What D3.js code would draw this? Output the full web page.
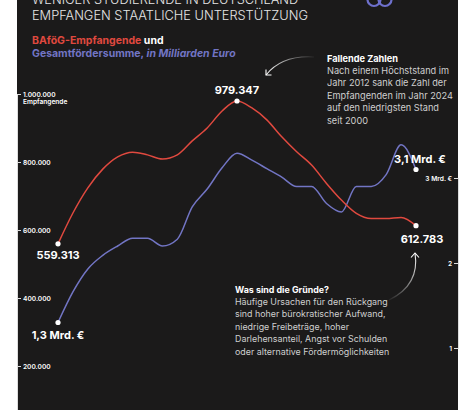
<!DOCTYPE html>
<html>
<head>
<meta charset="utf-8">
<script src="https://cdn.jsdelivr.net/npm/d3@7"></script>
<style>
  html, body { margin: 0; padding: 0; background: #fff; }
  svg { display: block; font-family: Inter, "Noto Sans", sans-serif; }
</style>
</head>
<body>
<svg width="474" height="410"></svg>
<script>
const years = [2000, 2001, 2002, 2003, 2004, 2005, 2006, 2007, 2008, 2009, 2010, 2011,
  2012, 2013, 2014, 2015, 2016, 2017, 2018, 2019, 2020, 2021, 2022, 2023, 2024];

// BAföG-Empfangende (Personen)
const recipients = [559313, 650000, 724000, 779000, 815000, 829000, 821000, 809000,
  821000, 862000, 900000, 950000, 979347, 959000, 924000, 874000, 830000, 791000,
  737000, 688000, 649000, 634000, 634000, 637000, 612783];

// Gesamtfördersumme in Mrd. Euro
const funding = [1.30, 1.66, 1.93, 2.09, 2.20, 2.29, 2.29, 2.20, 2.28, 2.66, 2.87, 3.12,
  3.29, 3.21, 3.11, 3.01, 2.90, 2.90, 2.70, 2.60, 2.90, 2.90, 3.04, 3.39, 3.10];

const leftTicks = [200000, 400000, 600000, 800000, 1000000];
const rightTicks = [1, 2, 3];

const RED = "#e0493f";
const BLUE = "#7275c4";
const BG = "#1b1a1a";

const de = d3.formatLocale({ decimal: ",", thousands: ".", grouping: [3], currency: ["", " €"] });
const fmtInt = de.format(",d");
const fmtMrd = (v) => de.format(".1f")(v) + " Mrd. €";

const svg = d3.select("svg");
const W = 474, H = 410;
const panelL = 17, panelR = 458;

svg.append("rect").attr("x", panelL).attr("y", 0)
  .attr("width", panelR - panelL).attr("height", H).attr("fill", BG);

const x = d3.scaleLinear().domain([2000, 2024]).range([58, 416]);
const yL = d3.scaleLinear().domain([0, 1000000]).range([434, 94]);
const yR = d3.scaleLinear().domain([1, 3]).range([348, 178]);

// header
const title = svg.append("text").attr("fill", "#e6e6e6")
  .attr("font-size", 12.8).attr("font-weight", 300);
title.append("tspan").attr("x", 32).attr("y", 3.5).text("WENIGER STUDIERENDE IN DEUTSCHLAND");
title.append("tspan").attr("x", 32).attr("y", 20).text("EMPFANGEN STAATLICHE UNTERSTÜTZUNG");

const sub1 = svg.append("text").attr("x", 32).attr("y", 44)
  .attr("font-size", 10.5).attr("font-weight", 700);
sub1.append("tspan").attr("fill", RED).text("BAföG-Empfangende");
sub1.append("tspan").attr("fill", "#fff").text(" und");

const sub2 = svg.append("text").attr("x", 32).attr("y", 56.5)
  .attr("font-size", 10.5).attr("font-weight", 700).attr("fill", BLUE);
sub2.append("tspan").text("Gesamtfördersumme,");
sub2.append("tspan").attr("font-style", "italic").text(" in Milliarden Euro");

// logo rings
const logo = svg.append("g").attr("fill", "none").attr("stroke", "#6e70cc").attr("stroke-width", 2.2);
logo.append("circle").attr("cx", 374).attr("cy", -0.5).attr("r", 6.5);
logo.append("circle").attr("cx", 385).attr("cy", -0.5).attr("r", 6.5);

// axes
const axisL = svg.append("g").attr("transform", `translate(${panelL},0)`)
  .call(d3.axisRight(yL).tickValues(leftTicks).tickSize(4).tickPadding(2).tickFormat(fmtInt));
axisL.select(".domain").attr("stroke", "#ddd");
axisL.selectAll(".tick line").attr("stroke", "#ddd");
axisL.selectAll(".tick text").attr("fill", "#fff").attr("font-size", 6.6)
  .attr("font-weight", 600).attr("font-family", "Inter, sans-serif");
svg.append("text").attr("x", 23).attr("y", yL(1000000) + 9.5)
  .attr("fill", "#fff").attr("font-size", 6.6).attr("font-weight", 600).text("Empfangende");

const axisR = svg.append("g").attr("transform", `translate(${panelR},0)`)
  .call(d3.axisLeft(yR).tickValues(rightTicks).tickSize(4).tickPadding(2)
    .tickFormat((d) => (d === 3 ? "3 Mrd. €" : d)));
axisR.select(".domain").attr("stroke", "#ddd");
axisR.selectAll(".tick line").attr("stroke", "#ddd");
axisR.selectAll(".tick text").attr("fill", "#fff").attr("font-size", 6.6)
  .attr("font-weight", 600).attr("font-family", "Inter, sans-serif");

// lines
const redLine = d3.line().curve(d3.curveMonotoneX)
  .x((d, i) => x(years[i])).y((d) => yL(d));
const blueLine = d3.line().curve(d3.curveMonotoneX)
  .x((d, i) => x(years[i])).y((d) => yR(d));

svg.append("path").datum(funding).attr("d", blueLine)
  .attr("fill", "none").attr("stroke", BLUE).attr("stroke-width", 1.5);
svg.append("path").datum(recipients).attr("d", redLine)
  .attr("fill", "none").attr("stroke", RED).attr("stroke-width", 1.5);

// highlighted points
const last = years.length - 1;
const peak = recipients.indexOf(d3.max(recipients));
const dots = [
  { cx: x(years[0]), cy: yL(recipients[0]), label: fmtInt(recipients[0]), dx: 0, dy: 15 },
  { cx: x(years[peak]), cy: yL(recipients[peak]), label: fmtInt(recipients[peak]), dx: 0, dy: -7 },
  { cx: x(years[last]), cy: yL(recipients[last]), label: fmtInt(recipients[last]), dx: 6, dy: 17 },
  { cx: x(years[0]), cy: yR(funding[0]), label: fmtMrd(funding[0]), dx: 0, dy: 16 },
  { cx: x(years[last]), cy: yR(funding[last]), label: fmtMrd(funding[last]), dx: 4, dy: -7 },
];

svg.append("g").selectAll("circle").data(dots).join("circle")
  .attr("cx", (d) => d.cx).attr("cy", (d) => d.cy).attr("r", 2.6).attr("fill", "#fff");

svg.append("g").selectAll("text").data(dots).join("text")
  .attr("x", (d) => d.cx + d.dx).attr("y", (d) => d.cy + d.dy)
  .attr("text-anchor", "middle").attr("fill", "#fff")
  .attr("font-size", 11).attr("font-weight", 700).text((d) => d.label);

// annotations
function note(x0, y0, head, lines, size) {
  const t = svg.append("text").attr("font-size", size);
  t.append("tspan").attr("x", x0).attr("y", y0).attr("fill", "#fff")
    .attr("font-weight", 700).text(head);
  lines.forEach((l, i) => {
    t.append("tspan").attr("x", x0).attr("y", y0 + 12.4 * (i + 1))
      .attr("fill", "#cfcfcf").attr("font-weight", 400).text(l);
  });
}

note(327, 61.5, "Fallende Zahlen", [
  "Nach einem Höchststand im",
  "Jahr 2012 sank die Zahl der",
  "Empfangenden im Jahr 2024",
  "auf den niedrigsten Stand",
  "seit 2000",
], 9.2);

note(235, 292.5, "Was sind die Gründe?", [
  "Häufige Ursachen für den Rückgang",
  "sind hoher bürokratischer Aufwand,",
  "niedrige Freibeträge, hoher",
  "Darlehensanteil, Angst vor Schulden",
  "oder alternative Fördermöglichkeiten",
], 8.9);

// arrows with fading tails
const defs = svg.append("defs");
function arrow(id, p0, c, p1, head) {
  const g = defs.append("linearGradient").attr("id", id)
    .attr("gradientUnits", "userSpaceOnUse")
    .attr("x1", p0[0]).attr("y1", p0[1]).attr("x2", p1[0]).attr("y2", p1[1]);
  g.append("stop").attr("offset", 0).attr("stop-color", "#fff").attr("stop-opacity", 0.05);
  g.append("stop").attr("offset", 1).attr("stop-color", "#fff").attr("stop-opacity", 1);
  const p = d3.path();
  p.moveTo(p0[0], p0[1]);
  p.quadraticCurveTo(c[0], c[1], p1[0], p1[1]);
  svg.append("path").attr("d", p.toString()).attr("fill", "none")
    .attr("stroke", `url(#${id})`).attr("stroke-width", 1.1);
  const h = d3.path();
  h.moveTo(p1[0] + head[0][0], p1[1] + head[0][1]);
  h.lineTo(p1[0], p1[1]);
  h.lineTo(p1[0] + head[1][0], p1[1] + head[1][1]);
  svg.append("path").attr("d", h.toString()).attr("fill", "none")
    .attr("stroke", "#fff").attr("stroke-width", 1.1);
}

arrow("ga", [314, 57], [282, 55], [266, 75], [[0, -5.5], [5.5, 0]]);
arrow("gb", [389, 300], [420, 285], [415, 253], [[-4, 4.5], [4, 4.5]]);
</script>
</body>
</html>
